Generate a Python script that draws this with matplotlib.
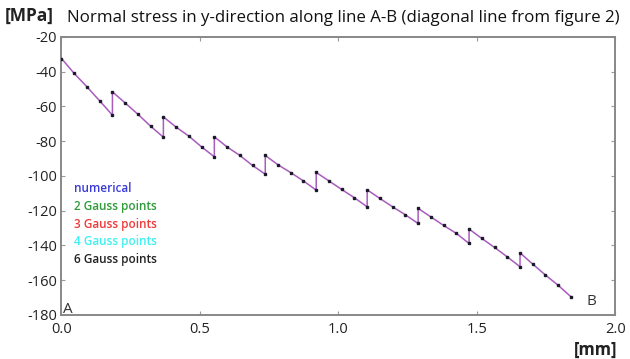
import matplotlib.pyplot as plt

# nodal values along the diagonal A-B (x in mm, stress in MPa); jumps between elements repeat x
x_mm = [0.000, 0.046, 0.092, 0.138, 0.184,
        0.184, 0.230, 0.276, 0.322, 0.368,
        0.368, 0.414, 0.460, 0.506, 0.552,
        0.552, 0.598, 0.644, 0.690, 0.736,
        0.736, 0.782, 0.828, 0.874, 0.920,
        0.920, 0.966, 1.012, 1.058, 1.104,
        1.104, 1.150, 1.196, 1.242, 1.288,
        1.288, 1.334, 1.380, 1.426, 1.472,
        1.472, 1.518, 1.564, 1.610, 1.656,
        1.656, 1.702, 1.748, 1.794, 1.840]
stress = [-32.4, -41.0, -48.7, -56.8, -65.0,
          -51.6, -58.0, -64.5, -71.4, -77.7,
          -66.0, -71.9, -77.1, -83.3, -89.0,
          -77.5, -83.3, -88.2, -94.0, -99.0,
          -88.2, -93.6, -98.1, -102.9, -108.2,
          -98.0, -102.9, -107.8, -112.6, -117.8,
          -108.0, -113.0, -117.8, -122.4, -127.4,
          -118.7, -123.6, -128.5, -133.1, -138.9,
          -130.6, -136.0, -141.2, -146.6, -152.3,
          -144.3, -150.8, -157.1, -163.0, -169.6]

legend_labels = ["numerical", "2 Gauss points", "3 Gauss points", "4 Gauss points", "6 Gauss points"]
legend_colors = ["#3a3ad8", "#2f9a3a", "#ee3a3a", "#3ef0f0", "#222222"]

x_ticks = [0.0, 0.5, 1.0, 1.5, 2.0]
y_ticks = [-20, -40, -60, -80, -100, -120, -140, -160, -180]

plt.rcParams['font.family'] = ['Open Sans', 'DejaVu Sans']

fig = plt.figure(figsize=(6.3, 3.59), dpi=100)
ax = fig.add_axes([0.0976, 0.123, 0.879, 0.774])

ax.plot(x_mm, stress, color="#a85cbc", lw=1.1, zorder=2)
ax.plot(x_mm, stress, ls="none", marker="s", ms=2.1, color="#1a1a2a", zorder=3)

ax.set_xlim(0, 2.0)
ax.set_ylim(-180, -20)
ax.set_xticks(x_ticks)
ax.set_xticklabels([f"{v:.1f}" for v in x_ticks])
ax.set_yticks(y_ticks)
ax.set_yticklabels([str(v) for v in y_ticks])
ax.tick_params(direction="in", length=3, color="#999999", labelsize=10.5,
               labelcolor="#222222", top=True, right=True)
ax.tick_params(axis="x", pad=5)
ax.tick_params(axis="y", pad=3)
for s in ax.spines.values():
    s.set_color("#888888")
    s.set_linewidth(1.4)

# stacked colour legend as plain text
for k, (lab, col) in enumerate(zip(legend_labels, legend_colors)):
    ax.text(0.045, -107.5 - k * 10.1, lab, color=col, fontsize=8.5, fontweight="semibold",
            va="center", ha="left")

ax.text(0.005, -177, "A", fontsize=11, color="#333333", va="center", ha="left")
ax.text(1.895, -172.5, "B", fontsize=11, color="#333333", va="center", ha="left")

fig.text(0.008, 0.955, "[MPa]", fontsize=12.5, fontweight="bold", color="#222222", va="center")
fig.text(0.106, 0.951, "Normal stress in y-direction along line A-B (diagonal line from figure 2)",
         fontsize=12.2, color="#111111", va="center")
fig.text(0.945, 0.025, "[mm]", fontsize=12, fontweight="bold", color="#222222", va="center",
         ha="center")

fig.savefig("out.png", dpi=100)
